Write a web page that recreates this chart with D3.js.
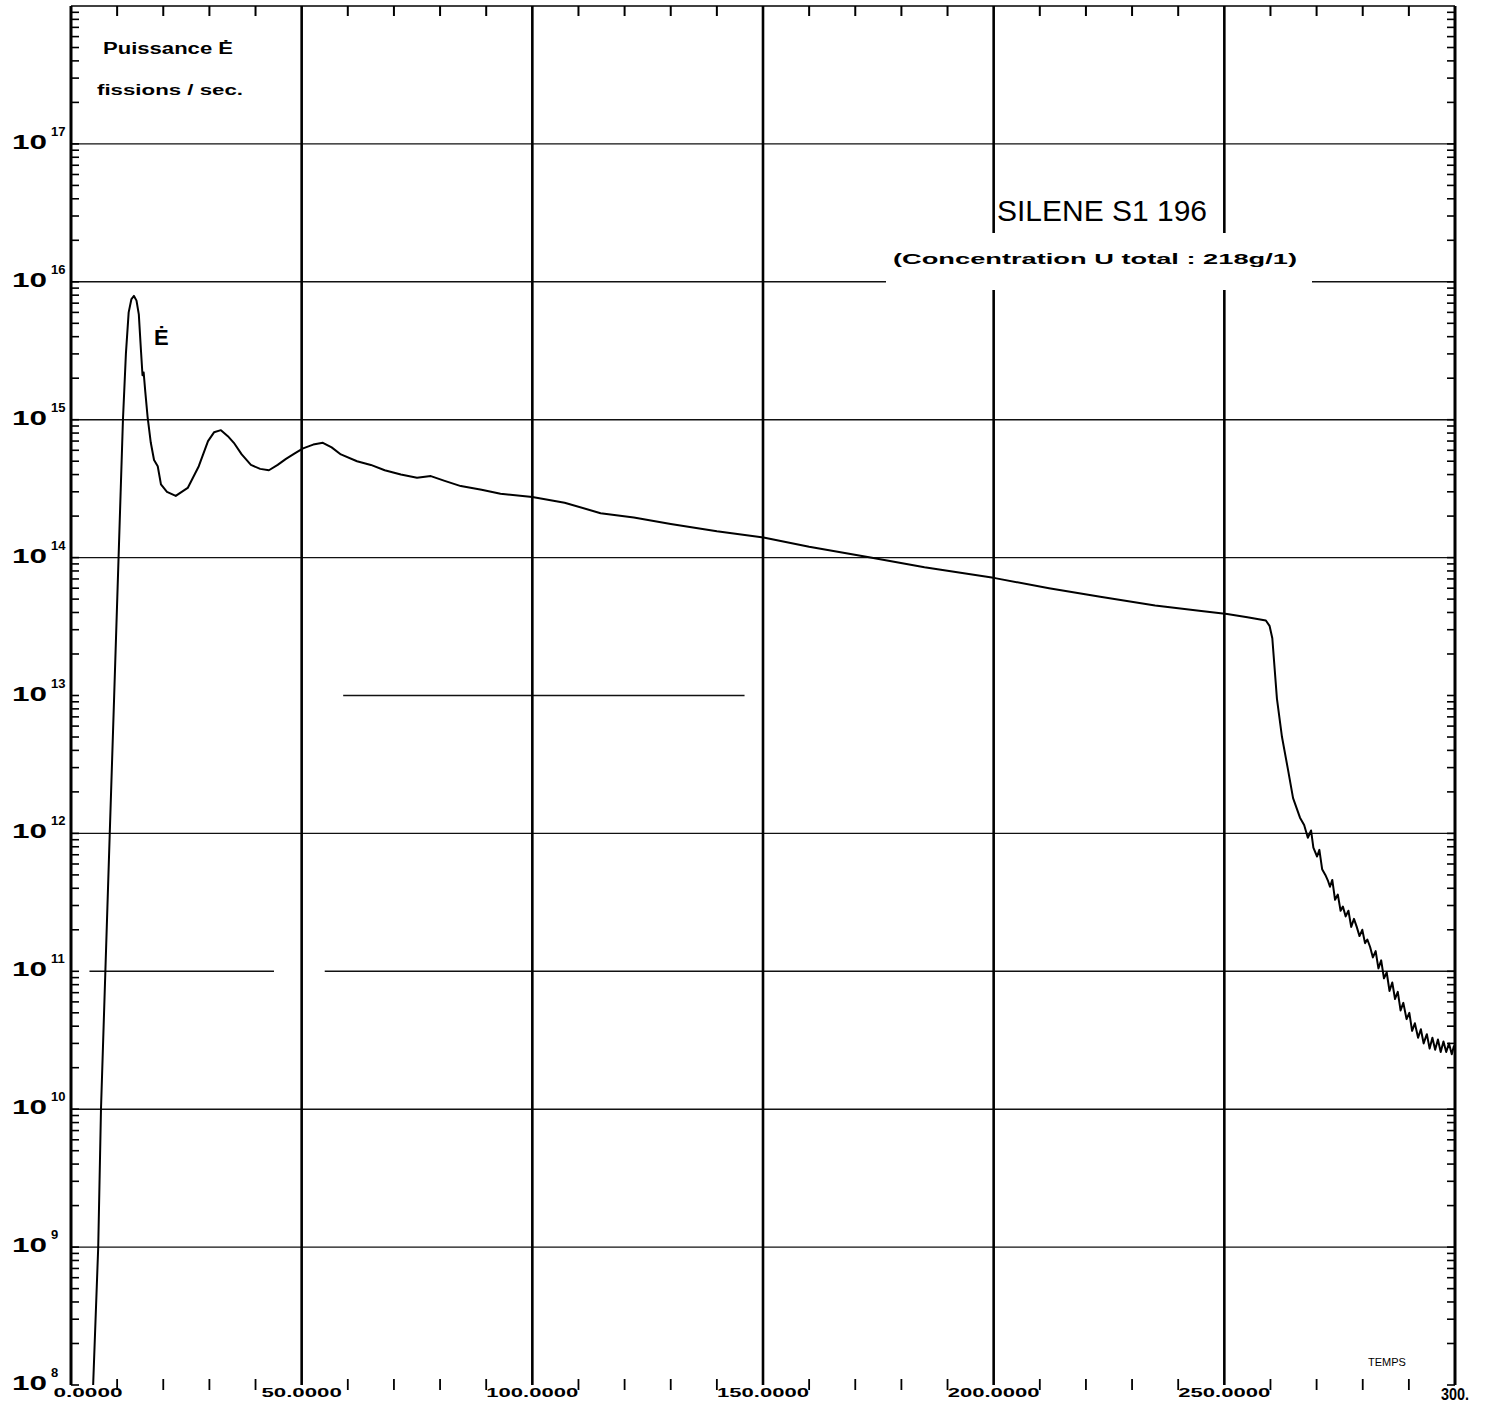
<!DOCTYPE html>
<html>
<head>
<meta charset="utf-8">
<script src="https://cdn.jsdelivr.net/npm/d3@7"></script>
<style>
  body { margin: 0; background: #fff; }
  text { font-family: "Liberation Sans", Arial, sans-serif; fill: #000; }
</style>
</head>
<body>
<div id="chart"></div>
<script>
// data
var timeMs = [4.8, 5.9, 6.5, 7.45, 8.4, 9.36, 10.31, 11.26, 11.9, 12.5, 13.1, 13.65, 14.2, 14.7,
  15.16, 15.5, 15.75, 16.1, 16.6, 17.3, 18.0, 18.8, 19.5, 20.8, 22.7, 24.0, 25.3, 27.7, 29.7,
  31.0, 32.5, 34.0, 35.3, 37.0, 39.0, 41.0, 42.9, 44.8, 46.6, 48.5, 50.3, 52.5, 54.6, 56.5,
  58.5, 62.0, 65.0, 68.0, 71.5, 75.0, 78.0, 81.0, 84.5, 89.0, 93.1, 100.0, 107.0, 114.8,
  122.0, 130.0, 140.0, 150.1, 160.0, 173.3, 185.0, 200.3, 212.0, 223.1, 235.0, 245.0, 250.6,
  255.0, 259.0, 259.8, 260.4, 261.4, 262.5, 263.8, 264.9, 266.4, 267.3,
  268.1, 268.8, 269.3, 270.1, 270.6, 271.2, 271.9, 272.5, 272.9, 273.4, 274.0, 274.6, 275.2,
  275.7, 276.3, 276.9, 277.5, 278.1, 278.7, 279.3, 279.9, 280.5, 281.0, 281.6, 282.2, 282.8,
  283.4, 284.0, 284.6, 285.2, 285.8, 286.4, 287.0, 287.6, 288.2, 288.8, 289.5, 290.1, 290.7,
  291.3, 292.0, 292.6, 293.2, 293.9, 294.5, 295.1, 295.7, 296.3, 296.9, 297.5, 298.1, 298.7,
  299.3, 299.8];
var power = [1e8, 1e9, 1e10, 1e11, 1e12, 1e13, 1e14, 1e15, 3.0e15, 6.0e15, 7.5e15, 7.9e15, 7.3e15, 5.8e15,
  3.2e15, 2.1e15, 2.2e15, 1.6e15, 1.05e15, 6.8e14, 5.1e14, 4.6e14, 3.4e14, 3.0e14, 2.8e14, 3.0e14, 3.2e14, 4.6e14, 7.0e14,
  8.1e14, 8.4e14, 7.6e14, 6.8e14, 5.6e14, 4.7e14, 4.4e14, 4.3e14, 4.7e14, 5.2e14, 5.7e14, 6.2e14, 6.6e14, 6.8e14, 6.3e14,
  5.6e14, 5.0e14, 4.7e14, 4.3e14, 4.0e14, 3.8e14, 3.9e14, 3.6e14, 3.3e14, 3.1e14, 2.9e14, 2.75e14, 2.5e14, 2.1e14,
  1.95e14, 1.75e14, 1.55e14, 1.4e14, 1.2e14, 1.0e14, 8.5e13, 7.1e13, 6.0e13, 5.2e13, 4.5e13, 4.1e13, 3.9e13,
  3.7e13, 3.5e13, 3.2e13, 2.6e13, 9.5e12, 5.0e12, 2.9e12, 1.8e12, 1.3e12, 1.15e12,
  9.3e11, 1.05e12, 7.9e11, 6.8e11, 7.6e11, 5.5e11, 5.0e11, 4.5e11, 4.1e11, 4.6e11, 3.3e11, 3.6e11, 2.75e11,
  2.95e11, 2.5e11, 2.75e11, 2.1e11, 2.4e11, 2.1e11, 1.8e11, 2.0e11, 1.6e11, 1.7e11, 1.5e11, 1.26e11, 1.4e11,
  1.05e11, 1.2e11, 8.9e10, 9.8e10, 7.2e10, 8.3e10, 6.3e10, 7.1e10, 5.2e10, 5.9e10, 4.5e10, 5.0e10, 3.7e10,
  4.2e10, 3.3e10, 3.8e10, 3.0e10, 3.5e10, 2.75e10, 3.3e10, 2.7e10, 3.2e10, 2.6e10, 3.1e10, 2.6e10, 3.0e10,
  2.5e10, 2.9e10];

var xTicks = [0, 50, 100, 150, 200, 250, 300];
var xTickLabels = ["0.0000", "50.0000", "100.0000", "150.0000", "200.0000", "250.0000", "300."];
var yDecades = [8, 9, 10, 11, 12, 13, 14, 15, 16, 17];
// horizontal grid pieces that survive on the plot (decade, from, to in ms)
var gridDecades = [9, 10, 11, 11, 12, 13, 14, 15, 16, 17];
var gridFrom = [0, 0, 4, 55, 0, 59, 0, 0, 0, 0];
var gridTo = [300, 300, 44, 300, 300, 146, 300, 300, 300, 300];

var width = 1485;
var height = 1408;

var svg = d3.select("#chart").append("svg")
  .attr("width", width).attr("height", height);
svg.append("rect").attr("width", width).attr("height", height).attr("fill", "#fff");

var x = d3.scaleLinear().domain([0, 300]).range([71, 1455]);
var y = d3.scaleLog().domain([1e8, 1e18]).range([1385, 6]);

// horizontal decade lines
svg.append("g").selectAll("line")
  .data(gridDecades)
  .enter().append("line")
    .attr("x1", function(d, i){ return x(gridFrom[i]); })
    .attr("x2", function(d, i){ return x(gridTo[i]); })
    .attr("y1", function(d){ return y(Math.pow(10, d)); })
    .attr("y2", function(d){ return y(Math.pow(10, d)); })
    .attr("stroke", "#111").attr("stroke-width", 1.4);

// vertical lines every 50 ms
svg.append("g").selectAll("line")
  .data(xTicks.slice(1, -1))
  .enter().append("line")
    .attr("x1", function(d){ return x(d); })
    .attr("x2", function(d){ return x(d); })
    .attr("y1", y(1e18)).attr("y2", y(1e8))
    .attr("stroke", "#000").attr("stroke-width", 2.6);

// top and bottom minor ticks every 10 ms
var minorX = d3.range(10, 300, 10).filter(function(d){ return d % 50 != 0; });
svg.append("line").attr("x1", x(0)).attr("x2", x(300)).attr("y1", y(1e18)).attr("y2", y(1e18))
  .attr("stroke", "#000").attr("stroke-width", 1.6);
svg.append("g").selectAll("line")
  .data(minorX)
  .enter().append("line")
    .attr("x1", function(d){ return x(d); }).attr("x2", function(d){ return x(d); })
    .attr("y1", y(1e18)).attr("y2", y(1e18) + 10)
    .attr("stroke", "#000").attr("stroke-width", 2);
svg.append("g").selectAll("line")
  .data(minorX)
  .enter().append("line")
    .attr("x1", function(d){ return x(d); }).attr("x2", function(d){ return x(d); })
    .attr("y1", y(1e8) - 6).attr("y2", y(1e8) + 5)
    .attr("stroke", "#000").attr("stroke-width", 1.8);

// left and right frame with log minor ticks
var minorY = [];
yDecades.forEach(function(d){
  for (var m = 2; m <= 9; m++) minorY.push(m * Math.pow(10, d));
});
[0, 300].forEach(function(t, k){
  svg.append("line").attr("x1", x(t)).attr("x2", x(t)).attr("y1", y(1e18)).attr("y2", y(1e8))
    .attr("stroke", "#000").attr("stroke-width", 3);
  var dir = k == 0 ? 1 : -1;
  svg.append("g").selectAll("line")
    .data(minorY.concat(yDecades.map(function(d){ return Math.pow(10, d); })))
    .enter().append("line")
      .attr("x1", x(t)).attr("x2", x(t) + dir * 8)
      .attr("y1", function(d){ return y(d); }).attr("y2", function(d){ return y(d); })
      .attr("stroke", "#000").attr("stroke-width", 1.6);
});

// white patch behind the concentration note
svg.append("rect").attr("x", 886).attr("y", 233).attr("width", 426).attr("height", 57).attr("fill", "#fff");

// power curve
var line = d3.line()
  .x(function(d){ return x(d[0]); })
  .y(function(d){ return y(d[1]); });
svg.append("path")
  .datum(d3.zip(timeMs, power))
  .attr("d", line)
  .attr("fill", "none")
  .attr("stroke", "#000")
  .attr("stroke-width", 2)
  .attr("stroke-linejoin", "round");

// y labels 10^n
var yl = svg.append("g").selectAll("g")
  .data(yDecades)
  .enter().append("g")
    .attr("transform", function(d){ return "translate(12," + y(Math.pow(10, d)) + ")"; });
yl.append("text").attr("y", 5).attr("font-size", 21).attr("font-weight", "bold")
  .attr("textLength", 35).attr("lengthAdjust", "spacingAndGlyphs").text("10");
yl.append("text").attr("x", 39).attr("y", -8).attr("font-size", 13).attr("font-weight", "bold")
  .text(function(d){ return d; });

// x labels
svg.append("g").selectAll("text")
  .data(xTicks)
  .enter().append("text")
    .attr("x", function(d, i){ return i == 0 ? x(d) + 17 : x(d); })
    .attr("y", function(d, i){ return i == 6 ? 1400 : 1397; })
    .attr("text-anchor", "middle")
    .attr("font-size", function(d, i){ return i == 6 ? 16 : 13; })
    .attr("font-weight", "bold")
    .attr("textLength", function(d, i){ return i == 6 ? 28 : xTickLabels[i].length * 11.5; })
    .attr("lengthAdjust", "spacingAndGlyphs")
    .text(function(d, i){ return xTickLabels[i]; });
svg.append("text").attr("x", 1368).attr("y", 1366).attr("font-size", 11)
  .attr("font-family", "Liberation Sans Narrow").text("TEMPS");

// titles
svg.append("text").attr("x", 103).attr("y", 54).attr("font-size", 16).attr("font-weight", "bold")
  .attr("textLength", 130).attr("lengthAdjust", "spacingAndGlyphs").text("Puissance \u0116");
svg.append("text").attr("x", 97).attr("y", 95).attr("font-size", 15).attr("font-weight", "bold")
  .attr("textLength", 146).attr("lengthAdjust", "spacingAndGlyphs").text("fissions / sec.");
svg.append("text").attr("x", 154).attr("y", 345).attr("font-size", 22).attr("font-weight", "bold").text("\u0116");
svg.append("text").attr("x", 997).attr("y", 221).attr("font-size", 29)
  .attr("font-family", "Liberation Sans Narrow")
  .attr("textLength", 210).attr("lengthAdjust", "spacingAndGlyphs").text("SILENE S1 196");
svg.append("text").attr("x", 893).attr("y", 264).attr("font-size", 15).attr("font-weight", "bold")
  .attr("font-family", "DejaVu Sans")
  .attr("textLength", 404).attr("lengthAdjust", "spacingAndGlyphs").text("(Concentration U total : 218g/1)");
</script>
</body>
</html>
